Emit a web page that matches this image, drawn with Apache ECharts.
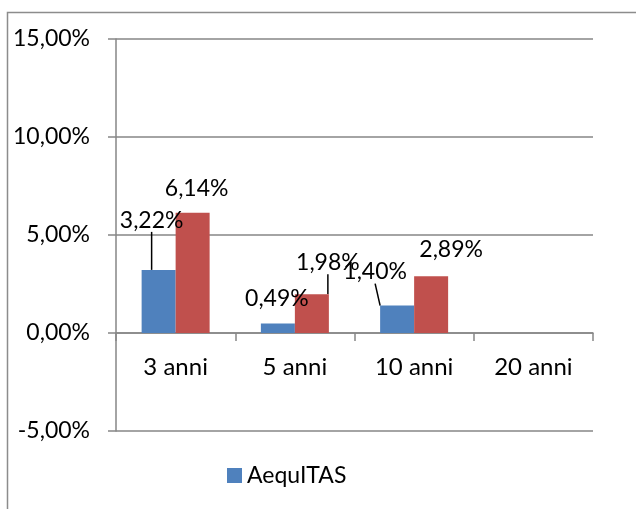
<!DOCTYPE html>
<html>
<head>
<meta charset="utf-8">
<script src="https://cdn.jsdelivr.net/npm/echarts@6/dist/echarts.min.js"></script>
<style>
  html, body { margin: 0; padding: 0; background: #fff; }
  #chart { width: 636px; height: 509px; }
</style>
</head>
<body>
<div id="chart"></div>
<script>
// Rendimenti per orizzonte temporale
const categories = ['3 anni', '5 anni', '10 anni', '20 anni'];
const seriesNames = ['AequITAS', 'Serie 2'];
const aequitas = [3.22, 0.49, 1.40, null];
const serie2 = [6.14, 1.98, 2.89, null];
const yTicks = { min: -5, max: 15, interval: 5 };

// Label nudges (dx, dy) and whether a leader line is drawn, per series/point
const labelNudge = [
  [[-7, -33, true], [-1, -8, false], [-22, -17, true], [0, 0, false]],
  [[4, -8, false], [16, -15, true], [20, -10, false], [0, 0, false]]
];

const FONT = 'Lato';
const fmtPct = v => v.toFixed(2).replace('.', ',') + '%';
const axisGrey = '#868686';

function buildData(values, s) {
  return values.map((v, i) => ({
    value: v,
    labelLine: { show: labelNudge[s][i][2] }
  }));
}

const labelCfg = {
  show: true,
  position: 'top',
  distance: 5,
  color: '#000',
  fontFamily: FONT,
  fontSize: 23,
  formatter: p => (p.value == null ? '' : fmtPct(p.value))
};
const lineCfg = { lineStyle: { color: '#000', width: 1.5 }, length2: 0 };

const chart = echarts.init(document.getElementById('chart'), null, { renderer: 'canvas' });
chart.setOption({
  animation: false,
  backgroundColor: '#fff',
  grid: { left: 116, right: 43, top: 39, bottom: 78 },
  legend: {
    data: [seriesNames[0]],
    left: 222, top: 459,
    itemWidth: 15, itemHeight: 15, itemGap: 10,
    icon: 'rect',
    textStyle: { fontFamily: FONT, fontSize: 23, color: '#000' }
  },
  xAxis: {
    type: 'category',
    data: categories,
    axisLine: { show: true, onZero: true, lineStyle: { color: axisGrey, width: 1.5 } },
    axisTick: { show: true, length: 8, lineStyle: { color: axisGrey, width: 1.5 } },
    // labels sit just under the zero line, not under the plot bottom
    axisLabel: { margin: -76, color: '#000', fontFamily: FONT, fontSize: 24 }
  },
  yAxis: {
    type: 'value',
    min: yTicks.min, max: yTicks.max, interval: yTicks.interval,
    axisLine: { show: true, lineStyle: { color: axisGrey, width: 1.5 } },
    axisTick: { show: true, length: 8, lineStyle: { color: axisGrey, width: 1.5 } },
    splitLine: { show: true, lineStyle: { color: axisGrey, width: 1.5 } },
    axisLabel: { margin: 26, color: '#000', fontFamily: FONT, fontSize: 23, formatter: v => fmtPct(v) }
  },
  series: [
    {
      name: seriesNames[0], type: 'bar', barWidth: 34, barGap: '0%',
      itemStyle: { color: '#4F81BD' },
      label: labelCfg, labelLine: lineCfg,
      labelLayout: p => ({ dx: labelNudge[0][p.dataIndex][0], dy: labelNudge[0][p.dataIndex][1] }),
      data: buildData(aequitas, 0)
    },
    {
      name: seriesNames[1], type: 'bar', barWidth: 34, barGap: '0%',
      itemStyle: { color: '#C0504D' },
      label: labelCfg, labelLine: lineCfg,
      labelLayout: p => ({ dx: labelNudge[1][p.dataIndex][0], dy: labelNudge[1][p.dataIndex][1] }),
      data: buildData(serie2, 1)
    }
  ],
  graphic: [{
    type: 'rect', silent: true, z: -1,
    shape: { x: 7.5, y: 12.5, width: 700, height: 600 },
    style: { fill: null, stroke: '#8c8c8c', lineWidth: 1.5 }
  }]
});
</script>
</body>
</html>
